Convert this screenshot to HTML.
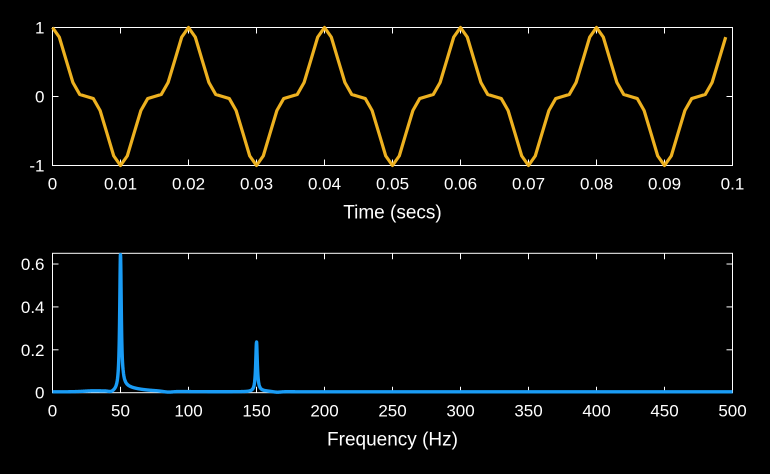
<!DOCTYPE html>
<html><head><meta charset="utf-8"><style>
html,body{margin:0;padding:0;background:#000;}
svg text{font-family:"Liberation Sans",sans-serif;fill:#fff;}
</style></head><body>
<svg id="s" width="770" height="469" xmlns="http://www.w3.org/2000/svg">
<rect width="770" height="469" fill="#000"/>
</svg>
<script>
var NS="http://www.w3.org/2000/svg";
function el(p,t,a,txt){var e=document.createElementNS(NS,t);for(var k in a)e.setAttribute(k,a[k]);if(txt!==undefined)e.textContent=txt;p.appendChild(e);return e;}
var s=document.getElementById('s');
function axes(L,R,T,B,xt,xl,yt,yl,x0,x1,y0,y1,xlabel){
 var g=el(s,'g',{});
 var X=function(v){return L+(v-x0)/(x1-x0)*(R-L);},Y=function(v){return B-(v-y0)/(y1-y0)*(B-T);};
 el(g,'rect',{x:L,y:T,width:R-L,height:B-T,fill:'none',stroke:'#fff','stroke-width':1});
 xt.forEach(function(v,i){var x=X(v);el(g,'line',{x1:x,x2:x,y1:B,y2:B-6,stroke:'#fff'});el(g,'line',{x1:x,x2:x,y1:T,y2:T+6,stroke:'#fff'});el(g,'text',{x:x,y:B+24,'text-anchor':'middle',style:'font-size:17px'},xl[i]);});
 yt.forEach(function(v,i){var y=Y(v);el(g,'line',{x1:L,x2:L+6,y1:y,y2:y,stroke:'#fff'});el(g,'line',{x1:R,x2:R-6,y1:y,y2:y,stroke:'#fff'});el(g,'text',{x:L-8,y:y+6,'text-anchor':'end',style:'font-size:17px'},yl[i]);});
 el(g,'text',{x:(L+R)/2,y:B+53,'text-anchor':'middle',style:'font-size:19px'},xlabel);
 return {X:X,Y:Y};
}
var a1=axes(52.5,732.5,27.5,165.5,[0,.01,.02,.03,.04,.05,.06,.07,.08,.09,.1],['0','0.01','0.02','0.03','0.04','0.05','0.06','0.07','0.08','0.09','0.1'],[-1,0,1],['-1','0','1'],0,0.1,-1,1,'Time (secs)');
var d='';
for(var n=0;n<100;n++){var t=n/1000,v=0.75*Math.cos(2*Math.PI*50*t)+0.25*Math.cos(2*Math.PI*150*t);d+=(n?'L':'M')+a1.X(t).toFixed(2)+','+a1.Y(v).toFixed(2);}
el(s,'path',{d:d,fill:'none',stroke:'#EDB120','stroke-width':3.2,'stroke-linejoin':'round'});
var a2=axes(52.5,732.5,253.3,392.7,[0,50,100,150,200,250,300,350,400,450,500],['0','50','100','150','200','250','300','350','400','450','500'],[0,.2,.4,.6],['0','0.2','0.4','0.6'],0,500,0,0.65,'Frequency (Hz)');
function m(f){
 var v=0.004;
 v+=0.004*Math.exp(-Math.pow((f-30)/10,2));
 v+=0.64/(1+Math.pow((f-50)/0.7,2));
 v+=0.23/(1+Math.pow((f-150)/0.7,2));
 if(f>50) v+=0.028*Math.exp(-(f-52)/14)*(f<52?(f-50)/2:1);
 if(f<50) v+=0.01*Math.exp((f-50)/1.5);
 if(f>150) v+=0.006*Math.exp(-(f-151)/8);
 v-=0.005*Math.exp(-Math.pow((f-43)/2.5,2));
 v-=0.004*Math.exp(-Math.pow((f-85)/5,2));
 v-=0.003*Math.exp(-Math.pow((f-165)/4,2));
 return v;
}
d='';
for(var f=0,i=0;f<=500.001;f+=0.1,i++){d+=(i?'L':'M')+a2.X(f).toFixed(2)+','+a2.Y(m(f)).toFixed(2);}
el(s,'path',{d:d,fill:'none',stroke:'#1a9cf5','stroke-width':3.4,'stroke-linejoin':'round'});
</script>
</body></html>
